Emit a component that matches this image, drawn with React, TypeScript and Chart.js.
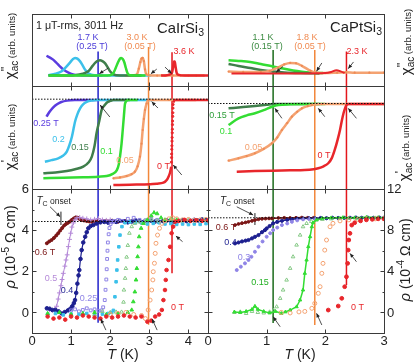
import React, { useEffect, useRef } from "react";
import { Chart, registerables } from "chart.js";

Chart.register(...registerables);

const W = 415;
const H = 362;
const FONT = '"Liberation Sans", Arial, Helvetica, sans-serif';

// ===== axis ranges and tick labels =====
const irTRange = [0, 4.5];
const ptTRange = [0, 3];
const chiRange = [0, 10];
const irRhoRange = [-1, 6];
const ptRhoRange = [-2, 12];
const irTTicks = [0, 1, 2, 3, 4];
const ptTTicks = [0, 1, 2, 3];
const irTLabels = ["0", "1", "2", "3", "4"];
const ptTLabels = ["0", "1", "2", "3"];
const irRhoTicks = [0, 2, 4, 6];
const ptRhoTicks = [0, 4, 8, 12];
const irRhoLabels = ["0", "2", "4", "6"];
const ptRhoLabels = ["0", "4", "8", "12"];
const irRhoMinor = [1, 3, 5];
const ptRhoMinor = [2, 6, 10];

// ===== CaIrSi3 chi'' (arb. units) [T, value] =====
const irChi2_025 = [[0.37, 4.2], [0.46, 3.95], [0.54, 3.66], [0.62, 3.25], [0.7, 2.8], [0.8, 2.3], [0.92, 1.9], [1.05, 1.62], [1.2, 1.5], [1.4, 1.45], [1.6, 1.44], [1.8, 1.44]];
const irChi2_02 = [[0.42, 1.5], [0.6, 1.7], [0.76, 2.05], [0.88, 2.7], [0.97, 3.25], [1.04, 3.7], [1.1, 3.9], [1.16, 3.8], [1.23, 3.42], [1.3, 2.8], [1.36, 2.25], [1.45, 1.75], [1.55, 1.52], [1.7, 1.46], [2.0, 1.45], [2.4, 1.45], [2.8, 1.45], [3.05, 1.45]];
const irChi2_015 = [[0.42, 1.45], [0.8, 1.45], [1.1, 1.5], [1.3, 1.7], [1.44, 2.05], [1.55, 2.8], [1.62, 3.25], [1.68, 3.5], [1.74, 3.58], [1.8, 3.45], [1.87, 3.15], [1.94, 2.55], [2.0, 2.0], [2.07, 1.65], [2.15, 1.5], [2.4, 1.45], [2.8, 1.45]];
const irChi2_01 = [[0.42, 1.45], [1.0, 1.45], [1.6, 1.45], [2.0, 1.5], [2.08, 1.8], [2.14, 2.5], [2.2, 3.3], [2.25, 3.8], [2.28, 3.9], [2.32, 3.75], [2.36, 3.3], [2.4, 2.5], [2.44, 1.8], [2.5, 1.5], [2.7, 1.45], [2.9, 1.45]];
const irChi2_005 = [[2.4, 1.45], [2.6, 1.5], [2.68, 1.6], [2.73, 2.4], [2.77, 3.3], [2.8, 3.8], [2.83, 3.9], [2.86, 3.45], [2.89, 2.3], [2.92, 1.65], [2.98, 1.5], [3.2, 1.45], [3.4, 1.45], [3.6, 1.45], [3.8, 1.45], [4.0, 1.45], [4.2, 1.45], [4.4, 1.45]];
const irChi2_0 = [[3.3, 1.45], [3.45, 1.5], [3.53, 1.6], [3.58, 1.85], [3.61, 2.7], [3.63, 3.4], [3.65, 3.4], [3.67, 2.7], [3.7, 1.8], [3.75, 1.55], [3.9, 1.45], [4.1, 1.45], [4.3, 1.45], [4.5, 1.45]];

// ===== CaPtSi3 chi'' =====
const ptChi2_01 = [[0.35, 3.56], [0.52, 3.48], [0.72, 3.34], [0.9, 3.05], [1.11, 2.72], [1.28, 2.42], [1.45, 2.15], [1.6, 1.98], [1.74, 1.87], [1.96, 1.79]];
const ptChi2_015 = [[0.35, 3.06], [0.52, 2.78], [0.72, 2.49], [0.9, 2.22], [1.11, 2.01], [1.3, 1.88], [1.57, 1.79], [1.9, 1.75]];
const ptChi2_005 = [[0.35, 2.0], [0.6, 1.95], [0.9, 1.95], [1.05, 2.1], [1.2, 2.6], [1.3, 3.0], [1.4, 3.2], [1.5, 3.15], [1.6, 2.8], [1.75, 2.1], [1.85, 1.85], [2.0, 1.8], [2.2, 1.85], [2.35, 1.9], [2.5, 1.85], [2.75, 1.85], [3.0, 1.85]];
const ptChi2_0 = [[0.4, 1.75], [0.8, 1.72], [1.2, 1.72], [1.6, 1.75], [2.0, 1.8], [2.1, 1.95], [2.19, 2.2], [2.27, 2.0], [2.33, 1.8]];

// ===== CaIrSi3 chi' =====
const irChi1Ref = [8.72];
const irChi1_025 = [[0.37, 7.02], [0.45, 7.5], [0.55, 7.95], [0.65, 8.25], [0.75, 8.45], [0.9, 8.58], [1.1, 8.63], [1.4, 8.64], [1.7, 8.64]];
const irChi1_02 = [[0.33, 2.65], [0.5, 2.8], [0.67, 2.98], [0.8, 3.25], [0.89, 3.62], [0.96, 4.3], [1.02, 5.08], [1.06, 5.8], [1.1, 6.53], [1.16, 7.25], [1.23, 7.83], [1.3, 8.2], [1.4, 8.47], [1.55, 8.6], [1.65, 8.64], [2.0, 8.64], [2.5, 8.64], [3.1, 8.64]];
const irChi1_015 = [[0.29, 1.52], [0.6, 1.6], [0.89, 1.75], [1.1, 1.92], [1.31, 2.17], [1.45, 2.6], [1.53, 3.14], [1.6, 4.2], [1.65, 5.41], [1.72, 6.6], [1.78, 7.67], [1.85, 8.1], [1.91, 8.38], [2.0, 8.55], [2.08, 8.64], [2.5, 8.64]];
const irChi1_01 = [[0.29, 1.04], [0.8, 1.1], [1.31, 1.14], [1.7, 1.2], [1.91, 1.26], [2.05, 1.45], [2.17, 1.84], [2.22, 2.4], [2.25, 3.14], [2.29, 4.4], [2.32, 5.73], [2.35, 7.1], [2.38, 8.32], [2.46, 8.64], [2.7, 8.64]];
const irChi1_005 = [[2.08, 1.04], [2.25, 1.12], [2.42, 1.26], [2.55, 1.45], [2.63, 1.68], [2.7, 2.2], [2.76, 3.14], [2.8, 4.4], [2.83, 5.73], [2.86, 6.8], [2.89, 7.67], [2.93, 8.3], [2.97, 8.64], [3.1, 8.64], [3.5, 8.64], [4.0, 8.64], [4.2, 8.64]];
const irChi1_0Low = [[2.08, 0.39], [2.5, 0.42], [3.02, 0.46], [3.2, 0.52], [3.36, 0.61], [3.45, 0.9], [3.49, 1.19], [3.53, 1.6], [3.56, 2.17]];
const irChi1_0Jump = [[3.565, 2.6], [3.568, 3.05], [3.571, 3.4], [3.574, 3.85], [3.577, 4.2], [3.58, 4.65], [3.583, 5.0], [3.586, 5.45], [3.589, 5.8], [3.592, 6.25], [3.595, 6.6], [3.598, 7.05], [3.601, 7.4], [3.604, 7.85], [3.607, 8.2]];
const irChi1_0High = [[3.61, 8.4], [3.65, 8.64], [4.0, 8.64], [4.5, 8.64]];

// ===== CaPtSi3 chi' =====
const ptChi1Ref = [8.3];
const ptChi1_015 = [[0.35, 7.83], [0.6, 7.95], [0.8, 8.06], [1.0, 8.18], [1.11, 8.25], [1.5, 8.25], [1.9, 8.25]];
const ptChi1_01 = [[0.35, 6.21], [0.52, 6.86], [0.66, 7.15], [0.8, 7.35], [0.95, 7.65], [1.09, 7.99], [1.2, 8.16], [1.4, 8.22], [1.7, 8.25], [2.0, 8.25]];
const ptChi1_005 = [[0.35, 2.75], [0.52, 2.98], [0.66, 3.2], [0.8, 3.47], [0.95, 3.9], [1.09, 4.44], [1.18, 5.0], [1.26, 5.73], [1.35, 6.4], [1.43, 7.02], [1.52, 7.5], [1.6, 7.83], [1.7, 8.05], [1.77, 8.16], [1.94, 8.25], [2.3, 8.25], [2.7, 8.25], [3.0, 8.25]];
const ptChi1_0 = [[0.49, 1.68], [0.8, 1.74], [1.09, 1.78], [1.4, 1.81], [1.65, 1.84], [1.8, 1.92], [1.88, 2.01], [1.97, 2.2], [2.05, 2.5], [2.11, 3.0], [2.16, 3.79], [2.21, 4.8], [2.25, 5.73], [2.28, 6.6], [2.31, 7.35], [2.34, 7.9], [2.36, 8.16], [2.4, 8.25], [2.6, 8.25], [3.0, 8.25]];

// ===== CaIrSi3 rho (1e-5 Ohm cm) =====
const irRhoRef = [4.42];
const irRho_06 = [[0.38, 3.36], [0.44, 3.45], [0.5, 3.52], [0.56, 3.62], [0.62, 3.74], [0.67, 3.85], [0.72, 3.98], [0.77, 4.1], [0.82, 4.22], [0.87, 4.3], [0.92, 4.36], [0.97, 4.42], [1.02, 4.5], [1.07, 4.57], [1.12, 4.62], [1.17, 4.6], [1.22, 4.54], [1.27, 4.49], [1.33, 4.47], [1.4, 4.44], [1.47, 4.42], [1.53, 4.41], [1.6, 4.45], [1.67, 4.43], [1.74, 4.4], [1.82, 4.44], [1.9, 4.45], [1.97, 4.42], [2.05, 4.46], [2.13, 4.43], [2.2, 4.41], [2.3, 4.45], [2.4, 4.44], [2.5, 4.42], [2.6, 4.45]];
const irRho_05 = [[0.45, 0.12], [0.52, 0.1], [0.58, 0.16], [0.63, 0.3], [0.67, 0.65], [0.7, 0.95], [0.74, 1.3], [0.77, 1.6], [0.8, 1.9], [0.84, 2.25], [0.87, 2.55], [0.9, 2.8], [0.93, 3.2], [0.96, 3.55], [0.99, 3.85], [1.02, 4.15], [1.06, 4.35], [1.1, 4.5], [1.15, 4.6], [1.22, 4.62], [1.3, 4.58], [1.4, 4.55], [1.5, 4.5], [1.6, 4.53], [1.7, 4.56], [1.8, 4.5], [1.9, 4.48], [2.0, 4.5]];
const irRho_04 = [[0.38, 0.2], [0.45, 0.18], [0.52, 0.12], [0.6, 0.12], [0.68, 0.05], [0.76, -0.05], [0.84, 0.02], [0.92, 0.1], [0.98, 0.18], [1.03, 0.3], [1.07, 0.45], [1.1, 0.6], [1.13, 0.95], [1.16, 1.4], [1.19, 1.8], [1.21, 2.06], [1.24, 2.6], [1.27, 3.03], [1.31, 3.4], [1.36, 3.68], [1.4, 3.9], [1.44, 4.09], [1.5, 4.2], [1.57, 4.25], [1.65, 4.32], [1.75, 4.38], [1.85, 4.4], [1.95, 4.36], [2.05, 4.42], [2.15, 4.4], [2.25, 4.45], [2.35, 4.43], [2.45, 4.38], [2.55, 4.42], [2.65, 4.47], [2.75, 4.44], [2.85, 4.4], [2.95, 4.43], [3.05, 4.46], [3.15, 4.42], [3.25, 4.4], [3.35, 4.44], [3.45, 4.47], [3.55, 4.43], [3.65, 4.4], [3.75, 4.45], [3.85, 4.48], [3.95, 4.44], [4.05, 4.46], [4.15, 4.5], [4.25, 4.47], [4.35, 4.52], [4.45, 4.5]];
const irRho_025 = [[1.0, 0.1], [1.1, 0.15], [1.2, 0.05], [1.3, 0.12], [1.4, 0.2], [1.5, 0.1], [1.6, 0.15], [1.7, 0.08], [1.78, 0.1], [1.82, 0.25], [1.86, 0.6], [1.88, 1.1], [1.9, 1.6], [1.91, 2.1], [1.92, 2.6], [1.93, 3.0], [1.94, 3.4], [1.96, 3.8], [1.98, 4.1], [2.01, 4.3], [2.05, 4.4], [2.1, 4.45], [2.2, 4.5], [2.3, 4.45], [2.45, 4.55], [2.6, 4.6], [2.75, 4.5], [2.9, 4.48], [3.05, 4.55], [3.2, 4.5]];
const irRho_02 = [[0.4, -0.1], [0.6, -0.05], [0.8, -0.12], [1.0, -0.08], [1.2, -0.1], [1.4, -0.05], [1.6, -0.1], [1.8, -0.08], [1.95, -0.05], [2.04, 0.0], [2.08, 0.1], [2.12, 0.76], [2.15, 1.49], [2.17, 2.06], [2.19, 2.55], [2.22, 3.19], [2.25, 3.76], [2.3, 4.17], [2.38, 4.36], [2.5, 4.4], [2.65, 4.38], [2.8, 4.35], [2.95, 4.3], [3.1, 4.33], [3.25, 4.36], [3.4, 4.3], [3.55, 4.32], [3.7, 4.28], [3.85, 4.3], [4.0, 4.27], [4.15, 4.3], [4.3, 4.28], [4.45, 4.32]];
const irRho_015 = [[1.6, -0.1], [1.8, 0.05], [2.0, 0.0], [2.15, 0.02], [2.29, 0.02], [2.34, 0.5], [2.35, 1.09], [2.38, 1.66], [2.4, 2.14], [2.42, 2.69], [2.45, 3.26], [2.49, 3.85], [2.55, 4.17], [2.63, 4.33], [2.75, 4.4], [2.9, 4.45], [3.05, 4.5], [3.2, 4.45], [3.4, 4.48], [3.6, 4.5], [3.8, 4.45], [4.0, 4.5], [4.2, 4.47], [4.4, 4.5]];
const irRho_01 = [[0.4, -0.05], [0.7, 0.0], [1.0, -0.1], [1.3, -0.05], [1.6, 0.0], [1.9, -0.1], [2.2, -0.05], [2.45, 0.0], [2.55, 0.12], [2.59, 0.52], [2.63, 1.0], [2.66, 1.58], [2.68, 2.14], [2.7, 2.71], [2.72, 3.19], [2.74, 3.68], [2.79, 4.09], [2.85, 4.33], [2.95, 4.5], [3.05, 4.7], [3.12, 4.85], [3.2, 4.8], [3.3, 4.6], [3.4, 4.5], [3.55, 4.55], [3.7, 4.5]];
const irRho_005 = [[2.0, -0.1], [2.2, -0.05], [2.4, 0.0], [2.6, -0.1], [2.8, -0.15], [2.9, -0.3], [2.97, 0.12], [3.02, 0.6], [3.06, 1.09], [3.09, 1.58], [3.1, 1.98], [3.13, 2.39], [3.15, 2.87], [3.17, 3.36], [3.21, 3.76], [3.26, 4.09], [3.32, 4.33], [3.4, 4.45], [3.5, 4.55], [3.6, 4.6], [3.7, 4.55], [3.85, 4.5], [4.0, 4.52], [4.15, 4.48], [4.3, 4.5], [4.45, 4.52]];
const irRho_0 = [[0.4, -0.2], [0.55, -0.3], [0.7, -0.25], [0.85, -0.35], [1.0, -0.2], [1.15, -0.25], [1.3, -0.15], [1.45, -0.2], [1.6, -0.25], [1.75, -0.3], [1.9, -0.2], [2.05, -0.25], [2.2, -0.2], [2.35, -0.15], [2.5, -0.2], [2.65, -0.25], [2.8, -0.2], [2.95, -0.45], [3.05, -0.4], [3.15, -0.2], [3.25, -0.1], [3.32, 0.12], [3.36, 0.6], [3.4, 1.09], [3.42, 1.58], [3.44, 2.06], [3.49, 2.55], [3.53, 3.19], [3.57, 3.85], [3.61, 4.17], [3.66, 4.41], [3.75, 4.45], [3.9, 4.5], [4.05, 4.45], [4.2, 4.48], [4.35, 4.45], [4.5, 4.47]];

// ===== CaPtSi3 rho (1e-4 Ohm cm) =====
const ptRhoRef = [9.2];
const ptRho_06 = [[0.46, 8.49], [0.52, 8.6], [0.58, 8.68], [0.64, 8.75], [0.69, 8.81], [0.75, 8.9], [0.8, 8.98], [0.86, 9.05], [0.92, 9.1], [0.98, 9.12], [1.04, 9.14], [1.09, 9.14], [1.2, 9.18], [1.3, 9.2], [1.4, 9.18], [1.5, 9.2], [1.6, 9.22], [1.7, 9.2], [1.8, 9.2]];
const ptRho_04 = [[0.46, 6.71], [0.52, 6.8], [0.58, 6.9], [0.64, 6.98], [0.69, 7.04], [0.75, 7.2], [0.8, 7.35], [0.86, 7.52], [0.92, 7.8], [0.97, 8.0], [1.0, 8.17], [1.05, 8.4], [1.11, 8.66], [1.18, 8.8], [1.26, 8.91], [1.35, 9.0], [1.43, 9.05], [1.52, 9.1], [1.62, 9.12], [1.72, 9.15], [1.82, 9.15], [1.92, 9.18], [2.02, 9.16], [2.12, 9.2], [2.22, 9.18], [2.32, 9.2], [2.42, 9.2], [2.52, 9.22], [2.62, 9.2], [2.72, 9.22], [2.82, 9.2], [2.92, 9.22], [3.0, 9.2]];
const ptRho_03 = [[0.49, 4.12], [0.56, 4.45], [0.63, 4.77], [0.69, 5.1], [0.74, 5.41], [0.8, 5.9], [0.86, 6.39], [0.93, 6.9], [1.0, 7.36], [1.06, 7.7], [1.11, 8.01], [1.18, 8.25], [1.26, 8.49], [1.35, 8.65], [1.43, 8.81], [1.52, 8.95], [1.62, 9.05], [1.72, 9.1], [1.82, 9.12]];
const ptRho_015 = [[0.45, 0.0], [0.55, 0.05], [0.65, -0.1], [0.75, 0.1], [0.85, 0.0], [0.95, -0.05], [1.05, 0.05], [1.12, 0.2], [1.17, 0.55], [1.23, 1.37], [1.28, 2.18], [1.34, 3.15], [1.4, 4.29], [1.45, 5.41], [1.51, 6.55], [1.57, 7.52], [1.62, 8.33], [1.68, 8.65], [1.76, 8.85], [1.85, 9.0], [1.95, 9.05], [2.1, 9.1], [2.25, 9.12], [2.4, 9.15], [2.55, 9.12], [2.7, 9.15], [2.85, 9.18], [3.0, 9.15]];
const ptRho_01 = [[0.45, 0.05], [0.55, 0.0], [0.65, 0.1], [0.75, 0.3], [0.8, 0.6], [0.85, 0.3], [0.95, 0.1], [1.05, -0.05], [1.15, 0.1], [1.25, -0.1], [1.32, 0.05], [1.4, 0.23], [1.51, 0.55], [1.57, 1.21], [1.62, 2.18], [1.65, 3.8], [1.68, 5.09], [1.71, 6.39], [1.74, 7.36], [1.77, 8.33], [1.79, 8.72], [1.85, 9.0], [1.95, 9.15], [2.1, 9.2], [2.3, 9.22], [2.5, 9.2], [2.7, 9.25], [2.9, 9.22], [3.0, 9.2]];
const ptRho_005 = [[1.25, 0.0], [1.4, -0.05], [1.55, 0.05], [1.65, 0.1], [1.77, 0.4], [1.82, 0.88], [1.88, 1.86], [1.91, 2.5], [1.94, 3.8], [1.96, 4.77], [1.99, 6.06], [2.02, 7.04], [2.08, 8.33], [2.13, 8.66], [2.25, 8.9], [2.4, 9.0], [2.55, 9.05], [2.7, 9.1], [2.85, 9.1], [3.0, 9.12]];
const ptRho_0 = [[2.05, 0.23], [2.22, 0.62], [2.28, 1.37], [2.33, 2.5], [2.36, 3.47], [2.38, 4.77], [2.39, 6.06], [2.4, 7.04], [2.42, 7.69], [2.45, 8.49], [2.5, 8.72], [2.6, 8.9], [2.7, 9.0], [2.8, 9.05], [2.9, 9.1], [3.0, 9.1]];

// ===== vertical Tc lines: T, start (chi'' units), end (rho units) =====
const irOnsetT = [1.69, 2.98, 3.58];
const irOnsetTop = [4.8, 5.4, 4.7];
const irOnsetEnd = [-0.5, -0.6, 1.9];
const ptOnsetT = [1.11, 1.82, 2.36];
const ptOnsetTop = [5.0, 5.0, 4.8];
const ptOnsetEnd = [-1.03, -1.22, 2.66];
// Tc onset marks: T, rho low, rho high
const irTcOnset = [0.74, 4.25, 4.9];
const ptTcOnset = [0.8, 8.5, 9.66];

// ===== arrows [tailT, tailV, tipT, tipV] =====
const irChi2Arrows = [[1.95, 2.49, 1.72, 1.7], [3.19, 2.35, 3.04, 1.7], [3.4, 2.63, 3.57, 1.75]];
const ptChi2Arrows = [[1.28, 2.72, 1.16, 1.9], [1.94, 3.2, 1.85, 2.05], [2.48, 3.34, 2.39, 2.4]];
const irChi1Arrows = [[1.99, 6.99, 1.74, 8.16], [3.22, 7.86, 3.06, 8.48], [3.83, 1.36, 3.61, 2.33]];
const ptChi1Arrows = [[1.26, 6.86, 1.14, 7.83], [1.99, 7.02, 1.88, 7.83], [2.53, 6.86, 2.39, 7.83]];
const irRhoArrows = [[0.46, 5.14, 0.72, 4.65], [3.85, 3.44, 3.68, 3.71], [1.89, -0.86, 1.76, -0.32], [3.2, -0.86, 3.07, -0.32]];
const ptRhoArrows = [[0.49, 10.27, 0.77, 9.47], [2.53, 4.93, 2.42, 5.74], [1.23, -1.39, 1.11, -0.42], [1.94, -1.22, 1.85, -0.09]];

// ===== colours =====
const PURPLE = "#5a3cdf";
const CYAN = "#3cc0ea";
const DKGREEN = "#3f7e4b";
const GREEN = "#33dd33";
const ORANGE = "#f4a271";
const ORANGE_DOT = "#ee8a55";
const RED = "#e8262b";
const MAROON = "#7b1616";
const LILAC = "#b58ad8";
const NAVY = "#1c1f8f";
const LAVENDER = "#8f84e6";
const PALEGREEN = "#86c986";
const V_BLUE = "#2323cc";
const V_ORANGE = "#f2873a";
const V_RED = "#e3161c";
const V_GREEN = "#1c6b1c";
const FRAME = "#3a3a3a";
const TXT = "#222222";

type Seg = { t: string; s: number; dy?: number; it?: boolean; na?: boolean };
type Txt = { x: number; y: number; segs: Seg[]; color: string; align?: "left" | "center" | "right"; rot?: boolean };
type Decor = {
  xTicks?: number[];
  xLabels?: string[];
  yTicks?: number[];
  yMinor?: number[];
  yLabels?: string[];
  ySide?: "left" | "right";
  arrows?: number[][];
  texts?: Txt[];
};

const pts = (a: number[][]) => a.map(([x, y]) => ({ x, y }));

function curve(data: number[][], color: string, width = 2.5, dotColor?: string) {
  return {
    data: pts(data),
    showLine: true,
    borderColor: color,
    backgroundColor: color,
    borderWidth: width,
    pointRadius: dotColor ? 1.1 : 0,
    pointBackgroundColor: dotColor || color,
    pointBorderWidth: 0,
    cubicInterpolationMode: "monotone" as const,
  };
}

function marks(data: number[][], color: string, style: string, open: boolean, r = 2.0, line = 0) {
  return {
    data: pts(data),
    showLine: line > 0,
    borderColor: color,
    borderWidth: line,
    backgroundColor: color,
    pointStyle: style,
    pointRadius: r,
    pointBorderColor: color,
    pointBackgroundColor: open ? "rgba(0,0,0,0)" : color,
    pointBorderWidth: 1,
  };
}

function seg2(x: number, y0: number, y1: number, color: string, width = 1.5) {
  return {
    data: [{ x, y: y0 }, { x, y: y1 }],
    showLine: true,
    borderColor: color,
    borderWidth: width,
    pointRadius: 0,
  };
}

function hdot(y: number, x0: number, x1: number) {
  return {
    data: [{ x: x0, y }, { x: x1, y }],
    showLine: true,
    borderColor: "#111",
    borderWidth: 1,
    borderDash: [1.5, 1.5],
    pointRadius: 0,
  };
}

function drawRich(ctx: CanvasRenderingContext2D, t: Txt) {
  ctx.save();
  ctx.translate(t.x, t.y);
  if (t.rot) ctx.rotate(-Math.PI / 2);
  const fonts = t.segs.map((s) => `${s.it ? "italic " : ""}${s.s}px ${FONT}`);
  const widths = t.segs.map((s, i) => {
    ctx.font = fonts[i];
    return ctx.measureText(s.t).width;
  });
  const total = t.segs.reduce((a, s, i) => a + (s.na ? 0 : widths[i]), 0);
  let cx = t.align === "left" ? 0 : t.align === "right" ? -total : -total / 2;
  const base = 0.36 * t.segs[0].s;
  ctx.fillStyle = t.color;
  ctx.textBaseline = "alphabetic";
  ctx.textAlign = "left";
  t.segs.forEach((s, i) => {
    ctx.font = fonts[i];
    ctx.fillText(s.t, cx, base + (s.dy || 0));
    if (!s.na) cx += widths[i];
  });
  ctx.restore();
}

function drawArrow(ctx: CanvasRenderingContext2D, x1: number, y1: number, x2: number, y2: number) {
  ctx.beginPath();
  ctx.moveTo(x1, y1);
  ctx.lineTo(x2, y2);
  ctx.stroke();
  const a = Math.atan2(y2 - y1, x2 - x1);
  const L = 4.5;
  const w = 0.42;
  ctx.beginPath();
  ctx.moveTo(x2, y2);
  ctx.lineTo(x2 - L * Math.cos(a - w), y2 - L * Math.sin(a - w));
  ctx.lineTo(x2 - L * Math.cos(a + w), y2 - L * Math.sin(a + w));
  ctx.closePath();
  ctx.fill();
}

function decorPlugin(d: Decor) {
  return {
    id: "decor",
    afterDatasetsDraw(chart: any) {
      const ctx: CanvasRenderingContext2D = chart.ctx;
      const { left, right, top, bottom } = chart.chartArea;
      const xs = chart.scales.x;
      const ys = chart.scales.y;
      ctx.save();
      ctx.strokeStyle = FRAME;
      ctx.lineWidth = 1;
      ctx.strokeRect(left + 0.5, top + 0.5, right - left, bottom - top);
      const ln = (x1: number, y1: number, x2: number, y2: number) => {
        ctx.beginPath();
        ctx.moveTo(x1, y1);
        ctx.lineTo(x2, y2);
        ctx.stroke();
      };
      (d.xTicks || []).forEach((v) => {
        const px = Math.round(xs.getPixelForValue(v)) + 0.5;
        if (px < left + 2 || px > right - 1) return;
        ln(px, bottom + 0.5, px, bottom - 3.5);
        ln(px, top + 0.5, px, top + 4.5);
      });
      const yt = (list: number[], len: number) =>
        list.forEach((v) => {
          const py = Math.round(ys.getPixelForValue(v)) + 0.5;
          if (py < top + 2 || py > bottom - 1) return;
          ln(left + 0.5, py, left + 0.5 + len, py);
          ln(right + 0.5, py, right + 0.5 - len, py);
        });
      yt(d.yTicks || [], 4);
      yt(d.yMinor || [], 2);
      ctx.fillStyle = TXT;
      ctx.font = `13px ${FONT}`;
      ctx.textBaseline = "middle";
      if (d.xLabels && d.xTicks) {
        ctx.textAlign = "center";
        d.xTicks.forEach((v, i) => ctx.fillText(d.xLabels![i], xs.getPixelForValue(v), bottom + 8.5));
      }
      if (d.yLabels && d.yTicks) {
        ctx.textAlign = d.ySide === "right" ? "left" : "right";
        const xx = d.ySide === "right" ? right + 3 : left - 3;
        d.yTicks.forEach((v, i) => ctx.fillText(d.yLabels![i], xx, ys.getPixelForValue(v) + 0.5));
      }
      ctx.strokeStyle = "#222";
      ctx.fillStyle = "#222";
      ctx.lineWidth = 0.8;
      (d.arrows || []).forEach(([t1, v1, t2, v2]) =>
        drawArrow(ctx, xs.getPixelForValue(t1), ys.getPixelForValue(v1), xs.getPixelForValue(t2), ys.getPixelForValue(v2))
      );
      (d.texts || []).forEach((t) => drawRich(ctx, t));
      ctx.restore();
    },
  };
}

const lbl = (x: number, y: number, t: string, color: string, s = 9, align: "left" | "center" | "right" = "center"): Txt => ({
  x,
  y,
  color,
  align,
  segs: [{ t, s }],
});

const chiTitle = (x: number, y: number, primes: string): Txt => ({
  x,
  y,
  color: TXT,
  rot: true,
  segs: [
    { t: "χ", s: 15 },
    { t: primes, s: 12, dy: -5, na: true },
    { t: "ac", s: 10, dy: 3 },
    { t: " (arb. units)", s: 9.5 },
  ],
});
const rhoTitle = (x: number, y: number, exp: string): Txt => ({
  x,
  y,
  color: TXT,
  rot: true,
  segs: [
    { t: "ρ", s: 15, it: true },
    { t: " (10", s: 14 },
    { t: exp, s: 10, dy: -6 },
    { t: " Ω cm)", s: 14 },
  ],
});
const tTitle = (x: number, y: number): Txt => ({
  x,
  y,
  color: TXT,
  segs: [
    { t: "T", s: 14, it: true },
    { t: " (K)", s: 14 },
  ],
});
const tcOnset = (x: number, y: number): Txt => ({
  x,
  y,
  color: TXT,
  align: "left",
  segs: [
    { t: "T", s: 10, it: true },
    { t: "C", s: 7, dy: 2.5 },
    { t: " onset", s: 8.5 },
  ],
});

type Panel = { box: number[]; xr: number[]; yr: number[]; datasets: any[]; decor: Decor };

function buildPanels(): Panel[] {
  const L = [32, 208];
  const R = [208, 384];
  const rowTop = [14, 86];
  const rowMid = [86, 189];
  const rowBot = [189, 333];
  const irCols = [V_BLUE, V_ORANGE, V_RED];
  const ptCols = [V_GREEN, V_ORANGE, V_RED];

  const irTop: Panel = {
    box: [L[0], rowTop[0], L[1], rowTop[1]],
    xr: irTRange,
    yr: chiRange,
    datasets: [
      curve(irChi2_0, RED),
      curve(irChi2_01, GREEN),
      curve(irChi2_015, DKGREEN),
      curve(irChi2_005, ORANGE, 2.5, ORANGE_DOT),
      curve(irChi2_02, CYAN),
      curve(irChi2_025, PURPLE),
      ...irOnsetT.map((t, i) => seg2(t, irOnsetTop[i], chiRange[0], irCols[i])),
    ],
    decor: {
      xTicks: irTTicks,
      arrows: irChi2Arrows,
      texts: [
        lbl(36, 25, "1 μT-rms, 3011 Hz", TXT, 10.7, "left"),
        { x: 204, y: 28, color: TXT, align: "right", segs: [{ t: "CaIrSi", s: 14.8 }, { t: "3", s: 10.5, dy: 3 }] },
        lbl(88, 37, "1.7 K", "#4a3ad8"),
        lbl(92, 45.5, "(0.25 T)", "#4a3ad8"),
        lbl(137, 37, "3.0 K", "#f08a50"),
        lbl(140, 45.5, "(0.05 T)", "#f08a50"),
        lbl(184, 51, "3.6 K", RED),
        chiTitle(10, 46, "''"),
      ],
    },
  };

  const ptTop: Panel = {
    box: [R[0], rowTop[0], R[1], rowTop[1]],
    xr: ptTRange,
    yr: chiRange,
    datasets: [
      curve(ptChi2_0, RED, 2),
      curve(ptChi2_005, ORANGE, 2.5, ORANGE_DOT),
      curve(ptChi2_015, DKGREEN),
      curve(ptChi2_01, GREEN),
      ...ptOnsetT.map((t, i) => seg2(t, ptOnsetTop[i], chiRange[0], ptCols[i])),
    ],
    decor: {
      xTicks: ptTTicks,
      arrows: ptChi2Arrows,
      texts: [
        { x: 382, y: 27, color: TXT, align: "right", segs: [{ t: "CaPtSi", s: 14.8 }, { t: "3", s: 10.5, dy: 3 }] },
        lbl(263, 37, "1.1 K", "#3a8a40"),
        lbl(267, 46, "(0.15 T)", "#3a8a40"),
        lbl(307, 37, "1.8 K", "#f08a50"),
        lbl(310, 46, "(0.05 T)", "#f08a50"),
        lbl(357, 51, "2.3 K", RED),
        chiTitle(406, 42, "''"),
      ],
    },
  };

  const irMid: Panel = {
    box: [L[0], rowMid[0], L[1], rowMid[1]],
    xr: irTRange,
    yr: chiRange,
    datasets: [
      hdot(irChi1Ref[0], irTRange[0], irTRange[1]),
      curve(irChi1_0Low, RED),
      marks(irChi1_0Jump, RED, "circle", false, 1.1),
      curve(irChi1_0High, RED),
      curve(irChi1_01, GREEN),
      curve(irChi1_015, DKGREEN),
      curve(irChi1_005, ORANGE, 2.5, ORANGE_DOT),
      curve(irChi1_02, CYAN),
      curve(irChi1_025, PURPLE),
      ...irOnsetT.map((t, i) => seg2(t, chiRange[1], chiRange[0], irCols[i])),
    ],
    decor: {
      xTicks: irTTicks,
      arrows: irChi1Arrows,
      texts: [
        lbl(46, 123, "0.25 T", PURPLE),
        lbl(58.5, 139, "0.2", CYAN),
        lbl(80, 147, "0.15", DKGREEN),
        lbl(106.5, 151, "0.1", GREEN),
        lbl(125, 160, "0.05", ORANGE),
        lbl(163.5, 166, "0 T", RED),
        chiTitle(10, 137, "'"),
      ],
    },
  };

  const ptMid: Panel = {
    box: [R[0], rowMid[0], R[1], rowMid[1]],
    xr: ptTRange,
    yr: chiRange,
    datasets: [
      hdot(ptChi1Ref[0], ptTRange[0], ptTRange[1]),
      curve(ptChi1_0, RED),
      curve(ptChi1_005, ORANGE, 2.5, ORANGE_DOT),
      curve(ptChi1_01, GREEN),
      curve(ptChi1_015, DKGREEN),
      ...ptOnsetT.map((t, i) => seg2(t, chiRange[1], chiRange[0], ptCols[i])),
    ],
    decor: {
      xTicks: ptTTicks,
      arrows: ptChi1Arrows,
      texts: [
        lbl(222, 115, "0.15 T", "#2e9e3a"),
        lbl(226, 131, "0.1", GREEN),
        lbl(253.5, 147, "0.05", ORANGE),
        lbl(324, 155, "0 T", RED),
        chiTitle(404, 148, "'"),
      ],
    },
  };

  const irBot: Panel = {
    box: [L[0], rowBot[0], L[1], rowBot[1]],
    xr: irTRange,
    yr: irRhoRange,
    datasets: [
      hdot(irRhoRef[0], irTRange[0], irTRange[1]),
      marks(irRho_0, RED, "circle", false, 1.8),
      marks(irRho_005, ORANGE, "circle", true, 2.0),
      marks(irRho_01, GREEN, "triangle", false, 2.1),
      marks(irRho_015, PALEGREEN, "triangle", true, 2.1),
      marks(irRho_02, CYAN, "rect", false, 1.8),
      marks(irRho_025, LAVENDER, "rect", true, 2.0),
      marks(irRho_04, NAVY, "circle", false, 1.8, 1.2),
      marks(irRho_05, LILAC, "cross", true, 2.4, 1),
      marks(irRho_06, MAROON, "circle", false, 1.5, 2),
      seg2(irTcOnset[0], irTcOnset[1], irTcOnset[2], "#222", 1),
      ...irOnsetT.map((t, i) => seg2(t, irRhoRange[1], irOnsetEnd[i], irCols[i])),
    ],
    decor: {
      xTicks: irTTicks,
      xLabels: irTLabels,
      yTicks: irRhoTicks,
      yMinor: irRhoMinor,
      yLabels: irRhoLabels,
      ySide: "left",
      arrows: irRhoArrows,
      texts: [
        tcOnset(36.5, 200),
        lbl(45, 252, "0.6 T", MAROON),
        lbl(51, 278, "0.5", LILAC),
        lbl(67, 290, "0.4", NAVY),
        lbl(88.5, 298, "0.25", LAVENDER),
        lbl(177.5, 307, "0 T", RED),
        rhoTitle(10, 247, "-5"),
        tTitle(123, 354),
      ],
    },
  };

  const ptBot: Panel = {
    box: [R[0], rowBot[0], R[1], rowBot[1]],
    xr: ptTRange,
    yr: ptRhoRange,
    datasets: [
      hdot(ptRhoRef[0], ptTRange[0], ptTRange[1]),
      marks(ptRho_0, RED, "circle", false, 1.9),
      marks(ptRho_005, ORANGE, "circle", true, 2.0),
      marks(ptRho_01, GREEN, "triangle", false, 1.9, 1.5),
      marks(ptRho_015, PALEGREEN, "triangle", true, 2.1),
      marks(ptRho_03, LAVENDER, "circle", false, 1.5),
      marks(ptRho_04, NAVY, "circle", false, 1.6, 1.5),
      marks(ptRho_06, MAROON, "circle", false, 1.4, 1.5),
      seg2(ptTcOnset[0], ptTcOnset[1], ptTcOnset[2], "#222", 1),
      ...ptOnsetT.map((t, i) => seg2(t, ptRhoRange[1], ptOnsetEnd[i], ptCols[i])),
    ],
    decor: {
      xTicks: ptTTicks,
      xLabels: ptTLabels,
      yTicks: ptRhoTicks,
      yMinor: ptRhoMinor,
      yLabels: ptRhoLabels,
      ySide: "right",
      arrows: ptRhoArrows,
      texts: [
        tcOnset(220, 200),
        lbl(226, 227, "0.6 T", MAROON),
        lbl(230.5, 242, "0.4", NAVY),
        lbl(244, 257, "0.3", LAVENDER),
        lbl(260, 282, "0.15", "#22b022"),
        lbl(357.5, 307, "0 T", RED),
        rhoTitle(405, 260, "-4"),
        tTitle(300, 354),
      ],
    },
  };

  return [irTop, ptTop, irMid, ptMid, irBot, ptBot];
}

function makeChart(canvas: HTMLCanvasElement, p: Panel) {
  const [l, t, r, b] = p.box;
  return new Chart(canvas, {
    type: "scatter",
    data: { datasets: p.datasets },
    options: {
      responsive: false,
      animation: false,
      events: [],
      layout: { padding: { left: l, top: t, right: W - r, bottom: H - b } },
      scales: {
        x: { type: "linear", display: false, min: p.xr[0], max: p.xr[1] },
        y: { type: "linear", display: false, min: p.yr[0], max: p.yr[1] },
      },
      plugins: { legend: { display: false }, tooltip: { enabled: false } },
    },
    plugins: [decorPlugin(p.decor)],
  } as any);
}

export default function App() {
  const refs = useRef<(HTMLCanvasElement | null)[]>([]);
  useEffect(() => {
    const panels = buildPanels();
    const charts = panels.map((p, i) => makeChart(refs.current[i]!, p));
    return () => charts.forEach((c) => c.destroy());
  }, []);
  return (
    <div style={{ position: "absolute", left: 0, top: 0, width: W, height: H, background: "#fff" }}>
      {[0, 1, 2, 3, 4, 5].map((i) => (
        <canvas
          key={i}
          ref={(el) => {
            refs.current[i] = el;
          }}
          width={W}
          height={H}
          style={{ position: "absolute", left: 0, top: 0, width: W, height: H }}
        />
      ))}
    </div>
  );
}
